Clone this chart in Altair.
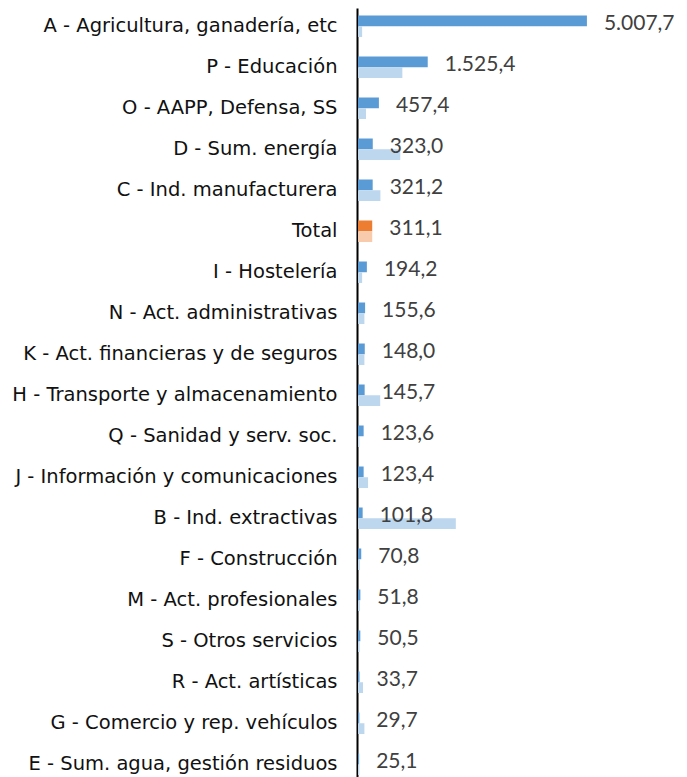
import altair as alt
import pandas as pd

categorias = [
    "A - Agricultura, ganadería, etc",
    "P - Educación",
    "O - AAPP, Defensa, SS",
    "D - Sum. energía",
    "C - Ind. manufacturera",
    "Total",
    "I - Hostelería",
    "N - Act. administrativas",
    "K - Act. financieras y de seguros",
    "H - Transporte y almacenamiento",
    "Q - Sanidad y serv. soc.",
    "J - Información y comunicaciones",
    "B - Ind. extractivas",
    "F - Construcción",
    "M - Act. profesionales",
    "S - Otros servicios",
    "R - Act. artísticas",
    "G - Comercio y rep. vehículos",
    "E - Sum. agua, gestión residuos",
]
serie_principal = [5007.7, 1525.4, 457.4, 323.0, 321.2, 311.1, 194.2, 155.6, 148.0,
                   145.7, 123.6, 123.4, 101.8, 70.8, 51.8, 50.5, 33.7, 29.7, 25.1]
serie_secundaria = [90, 970, 175, 925, 490, 311, 90, 140, 140,
                    485, 30, 220, 2140, 40, 40, 35, 110, 140, 30]


def fmt(v):
    s = f"{v:,.1f}"
    return s.replace(",", "X").replace(".", ",").replace("X", ".")


rows = []
for c, a, b in zip(categorias, serie_principal, serie_secundaria):
    tot = c == "Total"
    rows.append({"cat": c, "serie": "1", "valor": a,
                 "clave": "tot_osc" if tot else "osc"})
    rows.append({"cat": c, "serie": "2", "valor": b,
                 "clave": "tot_cla" if tot else "cla"})
df = pd.DataFrame(rows)
df_lab = pd.DataFrame({"cat": categorias, "valor": serie_principal,
                       "texto": [fmt(v) for v in serie_principal]})

yscale = alt.Scale(domain=categorias, range=[0, 774.5],
                   paddingInner=0.4756, paddingOuter=0.183)
xscale = alt.Scale(domain=[0, 7000], nice=False, zero=True)

bars = alt.Chart(df).mark_bar(cornerRadius=0).encode(
    y=alt.Y("cat:N", sort=categorias, scale=yscale,
            axis=alt.Axis(title=None, ticks=False, grid=False, domain=True,
                          domainColor="#000000", domainWidth=2, offset=1,
                          labelFont="DejaVu Sans", labelFontSize=19.5,
                          labelColor="#111111",
                          labelPadding=20, labelLimit=400)),
    yOffset=alt.YOffset("serie:N", scale=alt.Scale(paddingInner=0, paddingOuter=0)),
    x=alt.X("valor:Q", scale=xscale, axis=None),
    color=alt.Color("clave:N", legend=None,
                    scale=alt.Scale(domain=["osc", "cla", "tot_osc", "tot_cla"],
                                    range=["#5B9BD5", "#BDD7EE", "#ED7D31", "#F8CBAD"])),
)

labels = alt.Chart(df_lab).mark_text(
    align="left", baseline="middle", dx=17, dy=-2,
    font="Lato", fontSize=21, color="#404040"
).encode(
    y=alt.Y("cat:N", sort=categorias, scale=yscale),
    x=alt.X("valor:Q", scale=xscale),
    text="texto:N",
)

chart = alt.layer(bars, labels).properties(
    width=320, height=769,
    autosize=alt.AutoSizeParams(type="none"),
    padding={"left": 350, "top": 0, "right": 0, "bottom": 0},
).configure_view(stroke=None)

chart.save("out.html", embed_options={"renderer": "svg", "actions": False})
